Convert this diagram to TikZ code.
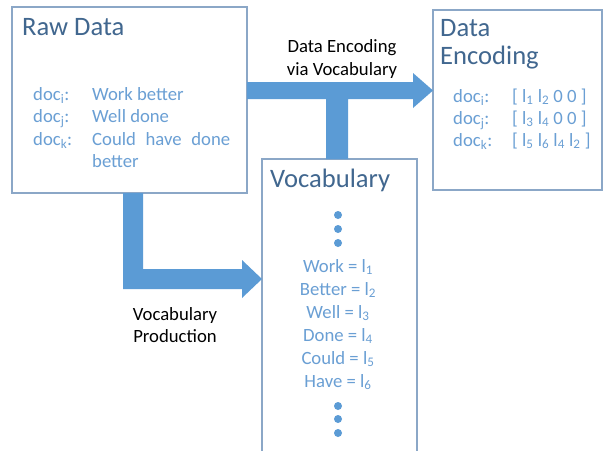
\documentclass[tikz,border=0pt]{standalone}
\usepackage{fontspec}
\setmainfont{Carlito}
\definecolor{boxc}{HTML}{8BA7C7}
\definecolor{titlec}{HTML}{41678F}
\definecolor{txtc}{HTML}{6A9FD4}
\definecolor{arrc}{HTML}{5B9BD5}
\begin{document}
\begin{tikzpicture}[x=1pt,y=-1pt,
  box/.style={draw=boxc, line width=1.3pt, fill=white, anchor=north west, inner sep=0, outer sep=0},
  ttl/.style={anchor=base west, text=titlec, font=\fontsize{26.6}{30}\selectfont, inner sep=0},
  body/.style={anchor=base west, text=txtc, font=\fontsize{18.7}{23}\selectfont, inner sep=0},
  voc/.style={anchor=base, text=txtc, font=\fontsize{18.7}{23}\selectfont, inner sep=0},
  lbl/.style={anchor=base, text=black, font=\fontsize{18.7}{23}\selectfont, inner sep=0},
  blk/.style={fill=arrc},
  dot/.style={circle, fill=arrc, inner sep=0, minimum size=8pt}]
\useasboundingbox (0,0) rectangle (604,450);
\clip (0,0) rectangle (604,450);
% boxes
\node[box, minimum width=235pt, minimum height=186pt] (raw) at (12,7) {};
\node[box, minimum width=169pt, minimum height=180pt] (enc) at (433,10) {};
\node[box, minimum width=155pt, minimum height=300pt] (vocab) at (262,159) {};
% arrows
\coordinate (t1) at (raw.east |- 0,82);
\fill[blk] (t1) -- (413,82) -- (413,73) -- (enc.west |- 0,90.5) -- (413,108) -- (413,99)
  -- (348,99) -- (348,0 |- vocab.north) -- (326,0 |- vocab.north) -- (326,99) -- (raw.east |- 0,99) -- cycle;
\fill[blk] (123,0 |- raw.south) -- (143,0 |- raw.south) -- (143,269) -- (242,269) -- (242,260)
  -- (vocab.west |- 0,279) -- (242,298) -- (242,289) -- (123,289) -- cycle;
% Raw Data
\node[ttl] (rawt) at (22,35) {Raw Data};
\node[body] (rdi) at (33,100) {doc\textsubscript{i}:};
\node[body] (rdj) at (33,122) {doc\textsubscript{j}:};
\node[body] (rdk) at (33,145) {doc\textsubscript{k}:};
\node[body] (rwi) at (92,100) {Work better};
\node[body] (rwj) at (92,122) {Well done};
\node[body] (rwk) at (92,145) {\makebox[138pt][s]{Could have done}};
\node[body] (rwk2) at (92,167) {better};
% Data Encoding
\node[ttl] (enct1) at (440,36) {Data};
\node[ttl] (enct2) at (440,64) {Encoding};
\node[body] (edi) at (453,102) {doc\textsubscript{i}:};
\node[body] (edj) at (453,124) {doc\textsubscript{j}:};
\node[body] (edk) at (453,146) {doc\textsubscript{k}:};
\node[body] (evi) at (512,102) {[ l\textsubscript{1} l\textsubscript{2} 0 0 ]};
\node[body] (evj) at (512,124) {[ l\textsubscript{3} l\textsubscript{4} 0 0 ]};
\node[body] (evk) at (512,146) {[ l\textsubscript{5} l\textsubscript{6} l\textsubscript{4} l\textsubscript{2} ]};
% Vocabulary
\node[ttl] (voct) at (270,187) {Vocabulary};
\node[dot] (d1) at (338,215) {};
\node[dot] (d2) at (338,229) {};
\node[dot] (d3) at (338,243) {};
\node[voc] (v1) at (338,272) {Work = l\textsubscript{1}};
\node[voc] (v2) at (338,295) {Better = l\textsubscript{2}};
\node[voc] (v3) at (338,318) {Well = l\textsubscript{3}};
\node[voc] (v4) at (338,341) {Done = l\textsubscript{4}};
\node[voc] (v5) at (338,364) {Could = l\textsubscript{5}};
\node[voc] (v6) at (338,387) {Have = l\textsubscript{6}};
\node[dot] (d4) at (338,406) {};
\node[dot] (d5) at (338,419) {};
\node[dot] (d6) at (338,433) {};
% labels
\node[lbl] (la1) at (342,52) {Data Encoding};
\node[lbl] (la2) at (342,75) {via Vocabulary};
\node[lbl] (lb1) at (175,320) {Vocabulary};
\node[lbl] (lb2) at (175,342) {Production};
\end{tikzpicture}
\end{document}
